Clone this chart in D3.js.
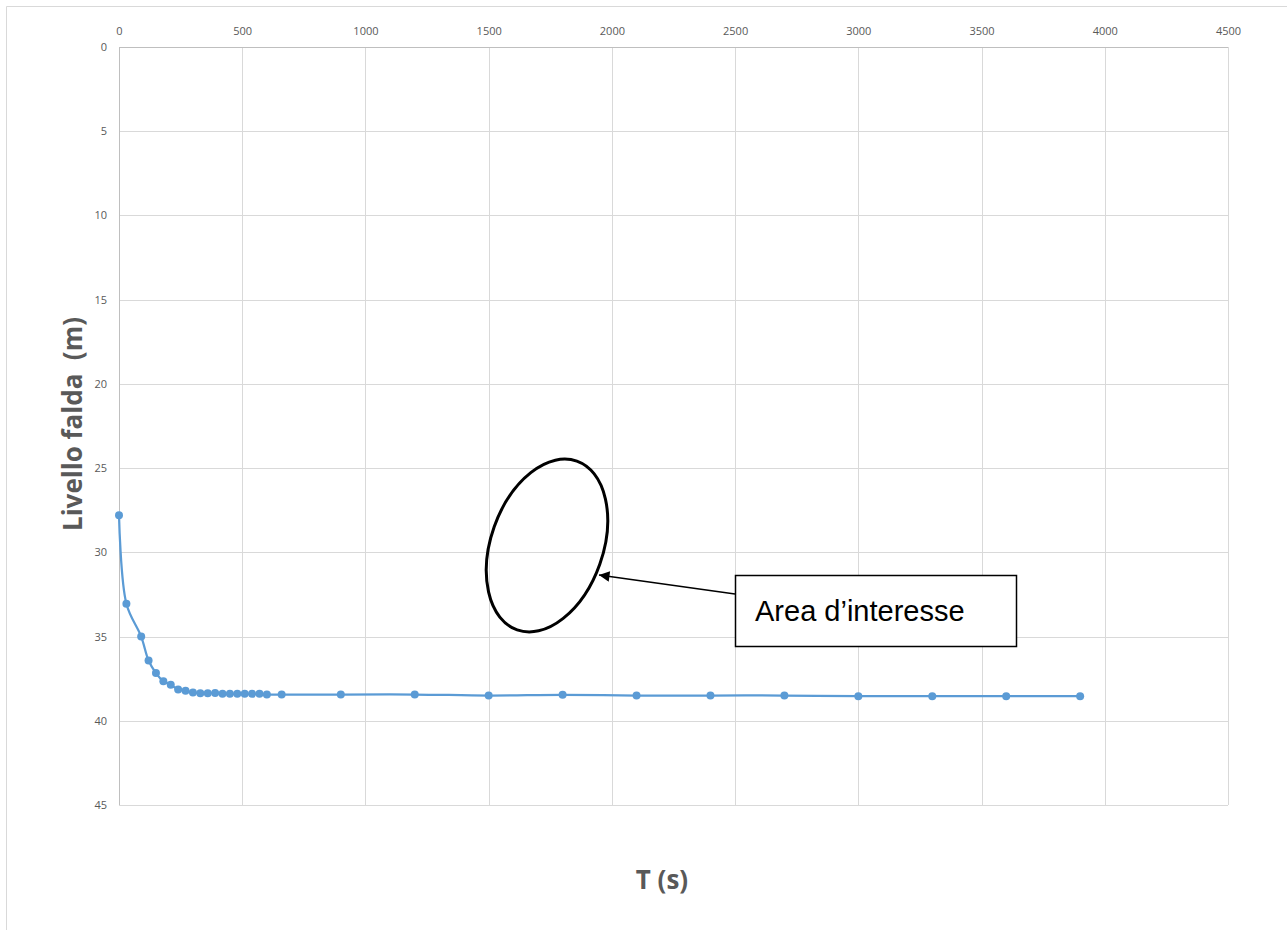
<!DOCTYPE html>
<html>
<head>
<meta charset="utf-8">
<script src="https://cdn.jsdelivr.net/npm/d3@7"></script>
<style>
  body { margin: 0; background: #fff; }
</style>
</head>
<body>
<script>
var w = 1287, h = 930;
var margin = { top: 47, left: 119, right: 59, bottom: 125 };

// time (s) and water level (m)
var timeValues = [0, 30, 90, 120, 150, 180, 210, 240, 270, 300, 330, 360, 390, 420, 450,
    480, 510, 540, 570, 600, 660, 900, 1200, 1500, 1800, 2100, 2400, 2700, 3000, 3300, 3600, 3900];
var levelValues = [27.8, 33.05, 35.0, 36.42, 37.17, 37.65, 37.86, 38.14, 38.22, 38.32, 38.36, 38.36, 38.35, 38.4, 38.4,
    38.4, 38.4, 38.4, 38.4, 38.44, 38.44, 38.44, 38.44, 38.5, 38.46, 38.5, 38.5, 38.5, 38.54, 38.54, 38.54, 38.54];
var xTicks = [0, 500, 1000, 1500, 2000, 2500, 3000, 3500, 4000, 4500];
var yTicks = [0, 5, 10, 15, 20, 25, 30, 35, 40, 45];
var xTitle = "T (s)";
var yTitle = "Livello falda  (m)";
var noteText = "Area d\u2019interesse";

var dataset = timeValues.map(function (t, i) {
    return { t: t, v: levelValues[i] };
});

var xScale = d3.scaleLinear()
    .domain([0, 4500])
    .range([margin.left, w - margin.right]);
var yScale = d3.scaleLinear()
    .domain([0, 45])
    .range([margin.top, h - margin.bottom]);

let svg = d3.select("body")
    .append("svg")
    .attr("width", w)
    .attr("height", h);

// chart frame
svg.append("path")
    .attr("d", "M6.5," + h + " L6.5,6.5 L" + w + ",6.5")
    .attr("fill", "none")
    .attr("stroke", "#d9d9d9");

// gridlines
svg.selectAll("line.vgrid")
    .data(xTicks)
    .enter()
    .append("line")
    .attr("class", "vgrid")
    .attr("x1", function (d) { return Math.round(xScale(d)) + 0.5; })
    .attr("x2", function (d) { return Math.round(xScale(d)) + 0.5; })
    .attr("y1", yScale(0))
    .attr("y2", yScale(45))
    .attr("stroke", "#d9d9d9");
svg.selectAll("line.hgrid")
    .data(yTicks)
    .enter()
    .append("line")
    .attr("class", "hgrid")
    .attr("x1", xScale(0))
    .attr("x2", xScale(4500))
    .attr("y1", function (d) { return Math.round(yScale(d)) + 0.5; })
    .attr("y2", function (d) { return Math.round(yScale(d)) + 0.5; })
    .attr("stroke", "#d9d9d9");

// axis lines
svg.append("line")
    .attr("x1", Math.round(xScale(0)) + 0.5).attr("x2", Math.round(xScale(0)) + 0.5)
    .attr("y1", yScale(0)).attr("y2", yScale(45))
    .attr("stroke", "#bfbfbf");
svg.append("line")
    .attr("x1", xScale(0)).attr("x2", xScale(4500))
    .attr("y1", Math.round(yScale(0)) + 0.5).attr("y2", Math.round(yScale(0)) + 0.5)
    .attr("stroke", "#bfbfbf");

// tick labels
var xAxis = d3.axisTop(xScale).tickValues(xTicks).tickFormat(d3.format("d")).tickSize(0).tickPadding(12);
svg.append("g")
    .attr("transform", "translate(0," + yScale(0) + ")")
    .call(xAxis)
    .call(function (g) { g.select(".domain").remove(); })
    .selectAll("text")
    .attr("font-family", "'Open Sans', sans-serif")
    .attr("font-size", "11px")
    .attr("fill", "#595959");

var yAxis = d3.axisLeft(yScale).tickValues(yTicks).tickFormat(d3.format("d")).tickSize(0).tickPadding(12);
svg.append("g")
    .attr("transform", "translate(" + xScale(0) + ",0)")
    .call(yAxis)
    .call(function (g) { g.select(".domain").remove(); })
    .selectAll("text")
    .attr("font-family", "'Open Sans', sans-serif")
    .attr("font-size", "11px")
    .attr("fill", "#595959");

// series
var line = d3.line()
    .x(function (d) { return xScale(d.t); })
    .y(function (d) { return yScale(d.v); })
    .curve(d3.curveCatmullRom.alpha(0.5));

svg.append("path")
    .datum(dataset)
    .attr("d", line)
    .attr("fill", "none")
    .attr("stroke", "#5b9bd5")
    .attr("stroke-width", 2.25);

svg.selectAll("circle")
    .data(dataset)
    .enter()
    .append("circle")
    .attr("cx", function (d) { return xScale(d.t); })
    .attr("cy", function (d) { return yScale(d.v); })
    .attr("r", 4)
    .attr("fill", "#5b9bd5");

// axis titles
svg.append("text")
    .text(xTitle)
    .attr("x", 662)
    .attr("y", 889)
    .attr("text-anchor", "middle")
    .attr("font-family", "'Open Sans', sans-serif")
    .attr("font-weight", "bold")
    .attr("font-size", "26px")
    .attr("fill", "#595959");

svg.append("text")
    .text(yTitle)
    .attr("transform", "translate(82,424) rotate(-90)")
    .attr("text-anchor", "middle")
    .style("white-space", "pre")
    .attr("font-family", "'Open Sans', sans-serif")
    .attr("font-weight", "bold")
    .attr("font-size", "26px")
    .attr("fill", "#595959");

// annotation: ellipse, arrow and box
svg.append("defs")
    .append("marker")
    .attr("id", "arrowhead")
    .attr("viewBox", "0 0 10 10")
    .attr("refX", 10)
    .attr("refY", 5)
    .attr("markerWidth", 8)
    .attr("markerHeight", 7)
    .attr("markerUnits", "strokeWidth")
    .attr("orient", "auto")
    .append("path")
    .attr("d", "M0,0 L10,5 L0,10 Z")
    .attr("fill", "#000");

svg.append("ellipse")
    .attr("transform", "translate(547,545.5) rotate(19.5)")
    .attr("rx", 56)
    .attr("ry", 89.5)
    .attr("fill", "none")
    .attr("stroke", "#000")
    .attr("stroke-width", 3);

svg.append("line")
    .attr("x1", 735)
    .attr("y1", 594)
    .attr("x2", 599)
    .attr("y2", 575)
    .attr("stroke", "#000")
    .attr("stroke-width", 1.5)
    .attr("marker-end", "url(#arrowhead)");

svg.append("rect")
    .attr("x", 735.5)
    .attr("y", 575.5)
    .attr("width", 281)
    .attr("height", 71)
    .attr("fill", "#fff")
    .attr("stroke", "#000")
    .attr("stroke-width", 1.5);

svg.append("text")
    .text(noteText)
    .attr("x", 755)
    .attr("y", 621)
    .attr("font-family", "'Liberation Sans', Arial, sans-serif")
    .attr("font-size", "29px")
    .attr("fill", "#000");
</script>
</body>
</html>
